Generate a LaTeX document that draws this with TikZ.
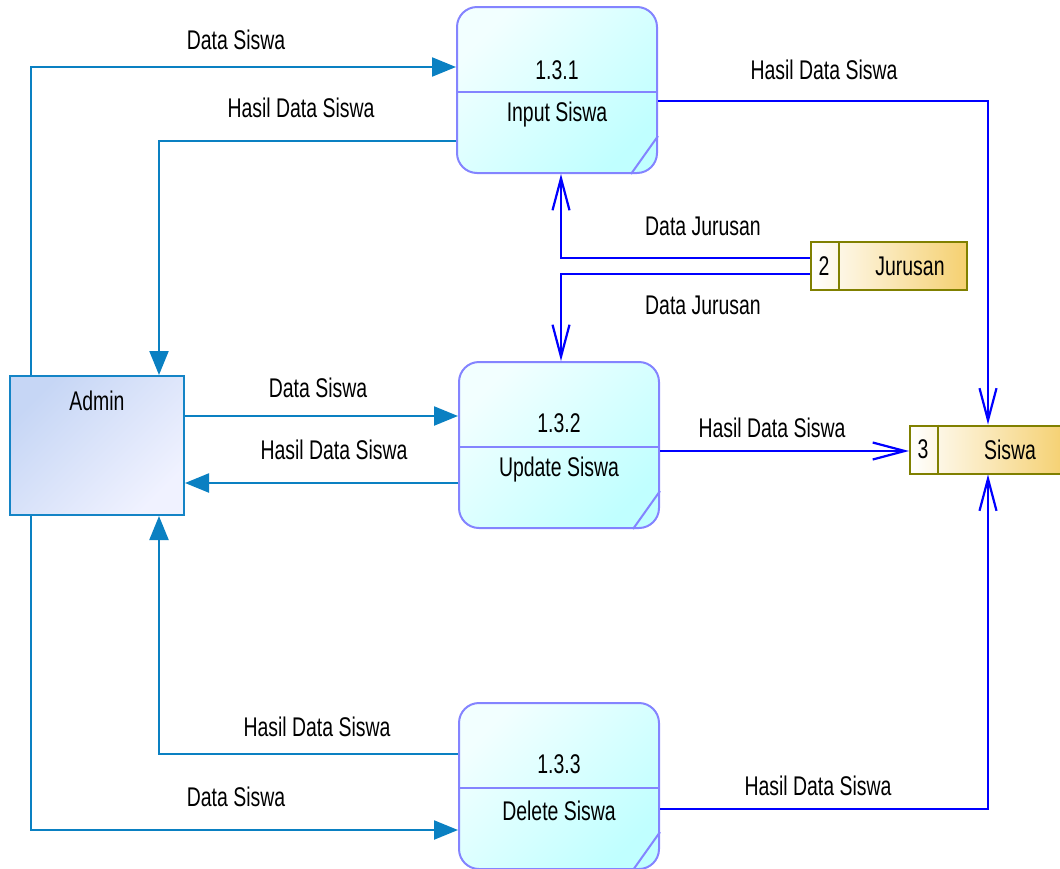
\documentclass[tikz,border=0pt]{standalone}
\usepackage{fontspec}
\setmainfont{Liberation Sans}[FakeStretch=0.72]
\usetikzlibrary{arrows.meta}
\definecolor{admcol}{RGB}{10,128,194}
\definecolor{flowblue}{RGB}{0,0,255}
\definecolor{procborder}{RGB}{132,132,255}
\definecolor{procA}{RGB}{242,255,255}
\definecolor{procB}{RGB}{192,255,255}
\definecolor{extA}{RGB}{198,214,245}
\definecolor{extB}{RGB}{240,242,255}
\definecolor{extborder}{RGB}{20,132,198}
\definecolor{storeborder}{RGB}{128,128,0}
\definecolor{storeB}{RGB}{245,208,112}
\tikzset{
  every node/.style={font=\fontsize{27}{30}\selectfont, inner sep=0pt},
  proc/.style={rectangle, rounded corners=20pt, minimum width=200pt, minimum height=166pt,
    draw=procborder, line width=2pt, top color=procA, bottom color=procB, shading angle=45},
  procline/.style={draw=procborder, line width=2pt},
  ext/.style={rectangle, minimum width=174pt, minimum height=139pt,
    draw=extborder, line width=2pt, top color=extA, bottom color=extB, shading angle=45},
  store/.style={rectangle, minimum width=156pt, minimum height=48pt,
    draw=storeborder, line width=2pt, left color=white, right color=storeB},
  storeline/.style={draw=storeborder, line width=2pt},
  adm/.style={draw=admcol, line width=2.2pt, -{Triangle[length=24pt,width=19pt]}},
  flow/.style={draw=flowblue, line width=2.2pt, -{Straight Barb[length=32pt,width=17pt]}},
}
\begin{document}
\begin{tikzpicture}[x=1pt,y=-1pt]
\useasboundingbox (0,0) rectangle (1060,868);

% shapes
\node[proc] (p1) at (557,90) {};
\node[proc] (p2) at (559,445) {};
\node[proc] (p3) at (559,786) {};
\node[ext] (admin) at (97,445.5) {};
\node[store] (jur) at (889,266) {};
\node[store] (sis) at (988,449.5) {};

\foreach \p in {p1,p2,p3}{
  \draw[procline] ([yshift=-2pt]\p.west) -- ([yshift=-2pt]\p.east);
  \draw[procline] ([yshift=38pt]\p.south east) -- ([xshift=-27pt]\p.south east);
}
\draw[storeline] ([xshift=29pt]jur.north west) -- ([xshift=29pt]jur.south west);
\draw[storeline] ([xshift=29pt]sis.north west) -- ([xshift=29pt]sis.south west);

% texts in shapes
\node (p1num) at ([yshift=20pt]p1.center) {1.3.1};
\node (p1name) at ([yshift=-25pt]p1.center) {Input Siswa};
\node (p2num) at ([yshift=22pt]p2.center) {1.3.2};
\node (p2name) at ([yshift=-25pt]p2.center) {Update Siswa};
\node (p3num) at ([yshift=22pt]p3.center) {1.3.3};
\node (p3name) at ([yshift=-25pt]p3.center) {Delete Siswa};
\node (adminname) at ([yshift=45pt]admin.center) {Admin};
\node (jurnum) at ([xshift=14pt]jur.west) {2};
\node (jurname) at ([xshift=21pt]jur.center) {Jurusan};
\node (sisnum) at ([xshift=14pt]sis.west) {3};
\node (sisname) at ([xshift=22pt]sis.center) {Siswa};

% admin connectors
\draw[adm] ([xshift=22pt]admin.north west) |- ([yshift=23pt]p1.west);
\draw[adm] ([yshift=-51pt]p1.west) -| ([xshift=150pt]admin.north west);
\coordinate (a3) at ([yshift=29.5pt]admin.east);
\draw[adm] (a3) -- (a3 -| p2.west);
\coordinate (a4) at ([yshift=-38pt]p2.west);
\draw[adm] (a4) -- (a4 -| admin.east);
\draw[adm] ([yshift=32pt]p3.west) -| ([xshift=150pt]admin.south west);
\draw[adm] ([xshift=22pt]admin.south west) |- ([yshift=-44pt]p3.west);

% store connectors
\draw[flow] ([yshift=-11pt]p1.east) -| (sis.north);
\coordinate (s2) at ([yshift=-6pt]p2.east);
\draw[flow] (s2) -- (s2 -| sis.west);
\draw[flow] ([yshift=-23pt]p3.east) -| (sis.south);
\draw[flow] ([yshift=8pt]jur.west) -| ([xshift=4pt]p1.south);
\draw[flow] ([yshift=-8pt]jur.west) -| ([xshift=2pt]p2.north);

% labels
\node (l1) at (236,40) {Data Siswa};
\node (l2) at (301,108) {Hasil Data Siswa};
\node (l3) at (318,388) {Data Siswa};
\node (l4) at (334,450) {Hasil Data Siswa};
\node (l5) at (317,727) {Hasil Data Siswa};
\node (l6) at (236,797) {Data Siswa};
\node (l7) at (824,70) {Hasil Data Siswa};
\node (l8) at (703,226) {Data Jurusan};
\node (l9) at (703,305) {Data Jurusan};
\node (l10) at (772,428) {Hasil Data Siswa};
\node (l11) at (818,786) {Hasil Data Siswa};
\end{tikzpicture}
\end{document}
